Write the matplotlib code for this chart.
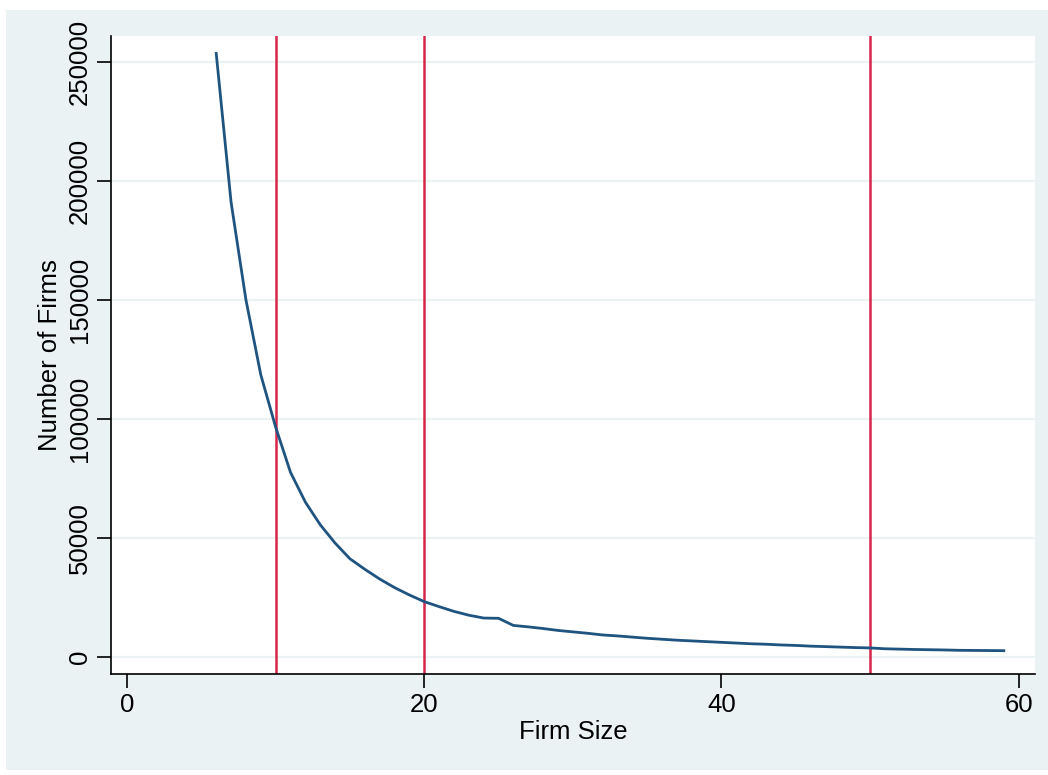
import numpy as np
import matplotlib.pyplot as plt
from matplotlib.patches import Rectangle

# number of firms by firm size (employees)
firm_size = list(range(6, 60))
n_firms = [
    253500, 191000, 150000, 118500, 96500, 77500, 65000, 55500, 47800, 41200,
    36800, 32700, 29100, 26000, 23200, 21100, 19100, 17500, 16300, 16200,
    13200, 12600, 11900, 11100, 10500, 9900, 9200, 8800, 8300, 7800,
    7400, 7000, 6700, 6400, 6100, 5800, 5500, 5300, 5000, 4800,
    4500, 4300, 4100, 3900, 3750, 3400, 3250, 3100, 3000, 2900,
    2750, 2700, 2650, 2600,
]
thresholds = [10, 20, 50]

x_ticks = [0, 20, 40, 60]
y_ticks = [0, 50000, 100000, 150000, 200000, 250000]

bg = "#EAF2F3"
navy = "#1F5380"
red = "#D7264A"

plt.rcParams["font.family"] = ["Liberation Sans", "DejaVu Sans"]

W, H = 1048, 775
fig = plt.figure(figsize=(W / 100, H / 100), dpi=100)
fig.patch.set_facecolor("white")
fig.patches.append(Rectangle((6 / W, 5 / H), (W - 6) / W, (H - 15) / H,
                             transform=fig.transFigure, facecolor=bg,
                             edgecolor="none", zorder=-10))

ax = fig.add_axes([111 / W, (H - 674) / H, (1035 - 111) / W, (674 - 36) / H])
ax.set_zorder(1)
ax.set_facecolor("white")

ax.plot(firm_size, n_firms, color=navy, lw=2, zorder=3)
for t in thresholds:
    ax.axvline(t, color=red, lw=1.8, zorder=2)

ax.set_xlim(-1.08, 61.1)
ax.set_ylim(-7200, 260800)
ax.set_xticks(x_ticks)
ax.set_yticks(y_ticks)
ax.set_yticklabels([str(v) for v in y_ticks], rotation=90, va="center")
ax.grid(axis="y", color=bg, lw=1.6, zorder=1)
ax.set_axisbelow(True)

for s in ["top", "right"]:
    ax.spines[s].set_visible(False)
for s in ["left", "bottom"]:
    ax.spines[s].set_linewidth(1.2)
ax.tick_params(direction="out", length=10, width=1.2, labelsize=18.5, pad=4)

ax.set_xlabel("Firm Size", fontsize=18.5, labelpad=2)
ax.set_ylabel("Number of Firms", fontsize=18.5, labelpad=4)

fig.savefig("out.png", dpi=100)
